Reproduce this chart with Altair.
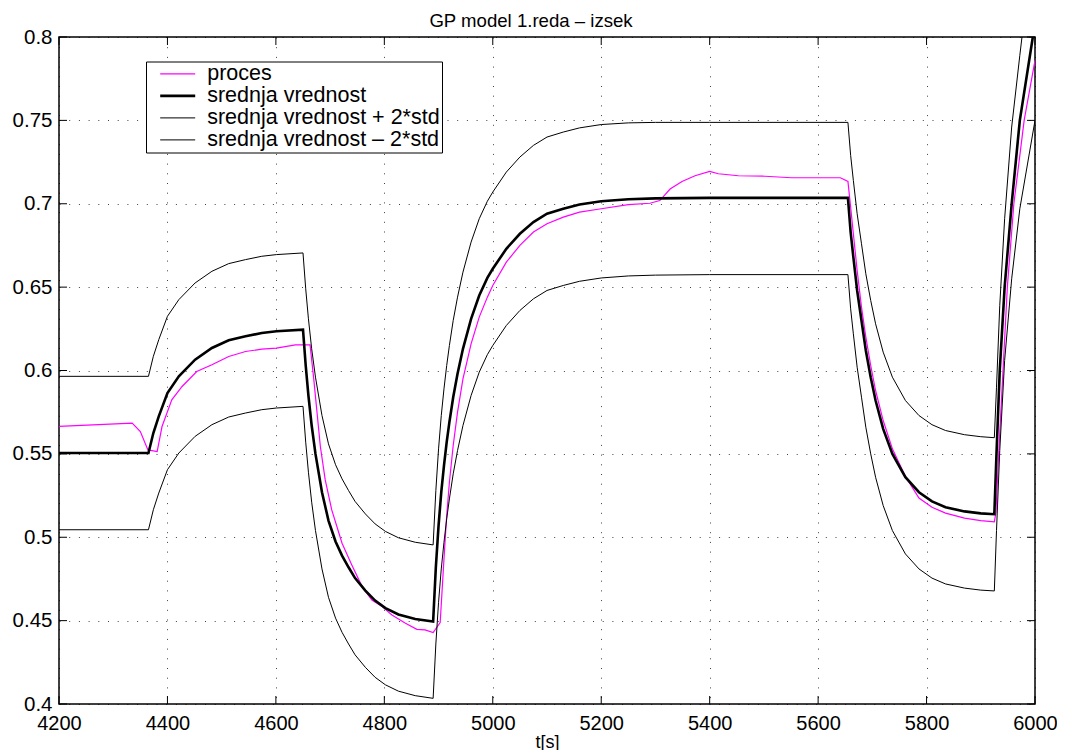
import altair as alt
import pandas as pd

# ---------------- data ----------------
x_ticks = [4200, 4400, 4600, 4800, 5000, 5200, 5400, 5600, 5800, 6000]
y_ticks = [0.4, 0.45, 0.5, 0.55, 0.6, 0.65, 0.7, 0.75, 0.8]

series_names = ["proces", "srednja vrednost", "srednja vrednost + 2*std", "srednja vrednost – 2*std"]

# common time grid of the model curves (up to the last step at 5925 s)
t_model = [4200, 4365, 4374, 4384, 4400, 4421, 4451, 4482, 4513, 4544, 4574, 4601, 4650,
           4655, 4660, 4666, 4673, 4685, 4697, 4710, 4722, 4734, 4746, 4765, 4783, 4802, 4826, 4857, 4890,
           4895, 4900, 4905, 4910, 4915, 4920, 4927, 4935, 4945, 4960, 4975, 4990, 5000, 5025, 5050, 5075,
           5100, 5130, 5160, 5200, 5250, 5300, 5400, 5655,
           5660, 5665, 5672, 5680, 5688, 5697, 5706, 5720, 5737, 5761, 5786, 5810, 5835, 5870, 5900, 5925]

mean_v = [0.5505, 0.5505, 0.5625, 0.5725, 0.5865, 0.5965, 0.6065, 0.6135, 0.6181, 0.6205, 0.6225, 0.6235, 0.6245,
          0.603, 0.585, 0.567, 0.550, 0.527, 0.510, 0.4975, 0.489, 0.482, 0.4755, 0.468, 0.462, 0.4575, 0.4537, 0.4510, 0.4494,
          0.482, 0.507, 0.527, 0.543, 0.557, 0.569, 0.584, 0.598, 0.613, 0.631, 0.645, 0.6555, 0.661, 0.673, 0.682, 0.689,
          0.694, 0.697, 0.6995, 0.7015, 0.7027, 0.7032, 0.7035, 0.7035,
          0.683, 0.668, 0.648, 0.630, 0.612, 0.596, 0.582, 0.565, 0.550, 0.536, 0.527, 0.5215, 0.518, 0.5155, 0.5143, 0.5138]

upper_v = [0.5965, 0.5965, 0.6085, 0.6185, 0.6325, 0.6425, 0.6525, 0.6595, 0.6641, 0.6665, 0.6685, 0.6695, 0.6705,
           0.649, 0.631, 0.613, 0.596, 0.573, 0.556, 0.5435, 0.535, 0.528, 0.5215, 0.514, 0.508, 0.5035, 0.4997, 0.497, 0.4954,
           0.528, 0.553, 0.573, 0.589, 0.603, 0.615, 0.630, 0.644, 0.659, 0.677, 0.691, 0.7015, 0.707, 0.719, 0.728, 0.735,
           0.740, 0.743, 0.7455, 0.7475, 0.7485, 0.7488, 0.7488, 0.7488,
           0.729, 0.714, 0.694, 0.676, 0.658, 0.642, 0.628, 0.611, 0.596, 0.582, 0.573, 0.5675, 0.564, 0.5615, 0.5603, 0.5597]

lower_v = [0.5045, 0.5045, 0.5165, 0.5265, 0.5405, 0.5505, 0.5605, 0.5675, 0.5721, 0.5745, 0.5765, 0.5775, 0.5785,
           0.557, 0.539, 0.521, 0.504, 0.481, 0.464, 0.4515, 0.443, 0.436, 0.4295, 0.422, 0.416, 0.4115, 0.4077, 0.405, 0.4034,
           0.436, 0.461, 0.481, 0.497, 0.511, 0.523, 0.538, 0.552, 0.567, 0.585, 0.599, 0.6095, 0.615, 0.627, 0.636, 0.643,
           0.648, 0.651, 0.6535, 0.6555, 0.6567, 0.6572, 0.6575, 0.6575,
           0.637, 0.622, 0.602, 0.584, 0.566, 0.550, 0.536, 0.519, 0.504, 0.490, 0.481, 0.4755, 0.472, 0.4695, 0.4683, 0.4678]

# last rise (after 5925 s) until each curve leaves the frame
t_mean_tail = [5929, 5935, 5944, 5957, 5972, 5996]
mean_tail = [0.55, 0.60, 0.65, 0.70, 0.75, 0.80]
t_upper_tail = [5929, 5935, 5944, 5957, 5972, 5976]
upper_tail = [0.59, 0.639, 0.691, 0.746, 0.789, 0.80]
t_lower_tail = [5929, 5935, 5944, 5957, 5972, 6000]
lower_tail = [0.504, 0.552, 0.606, 0.655, 0.697, 0.75]

t_proc = [4200, 4335, 4350, 4364, 4381, 4390, 4408, 4427, 4454, 4482, 4513, 4544, 4574, 4601, 4636, 4663,
          4670, 4676, 4682, 4691, 4703, 4722, 4740, 4759, 4777, 4796, 4814, 4839, 4860, 4875, 4890,
          4903, 4910, 4915, 4920, 4927, 4935, 4945, 4960, 4975, 4990, 5000, 5025, 5050, 5075, 5100, 5130,
          5160, 5200, 5250, 5290, 5308, 5327, 5349, 5373, 5400, 5416, 5453, 5502, 5551, 5641, 5655,
          5660, 5665, 5672, 5680, 5688, 5697, 5706, 5720, 5737, 5761, 5786, 5810, 5835, 5870, 5900, 5925,
          5928, 5933, 5941, 5949, 5961, 5980, 6000]

proc_v = [0.5665, 0.5685, 0.5634, 0.5524, 0.5514, 0.5664, 0.5824, 0.5904, 0.5994, 0.6034, 0.6084, 0.6114, 0.6128, 0.6134, 0.6154, 0.6154,
          0.5944, 0.5744, 0.5544, 0.5344, 0.5164, 0.4964, 0.4834, 0.4704, 0.4624, 0.4584, 0.4534, 0.4484, 0.4448, 0.4444, 0.4428,
          0.4488, 0.487, 0.513, 0.533, 0.555, 0.575, 0.595, 0.616, 0.632, 0.644, 0.651, 0.665, 0.675, 0.683, 0.688, 0.692,
          0.695, 0.697, 0.6995, 0.7003, 0.7019, 0.7088, 0.7134, 0.7168, 0.7194, 0.718, 0.7168, 0.7165, 0.7156, 0.7156, 0.7134,
          0.698, 0.682, 0.660, 0.638, 0.620, 0.603, 0.588, 0.570, 0.553, 0.5365, 0.5235, 0.518, 0.5145, 0.5115, 0.510, 0.5093,
          0.515, 0.550, 0.600, 0.650, 0.700, 0.750, 0.786]

# ---------------- build long table ----------------
rows = []


def add(ts, vs, name):
    for t, v in zip(ts, vs):
        rows.append({"t": t, "v": v, "series": name})


add(t_proc, proc_v, series_names[0])
add(t_model + t_mean_tail, mean_v + mean_tail, series_names[1])
add(t_model + t_upper_tail, upper_v + upper_tail, series_names[2])
add(t_model + t_lower_tail, lower_v + lower_tail, series_names[3])
df = pd.DataFrame(rows)
df["idx"] = range(len(df))

W, H = 976, 667
FONT = "Liberation Sans"

xscale = alt.Scale(domain=[4200, 6000], nice=False, zero=False)
yscale = alt.Scale(domain=[0.4, 0.8], nice=False, zero=False)

x_axis = alt.Axis(values=x_ticks, title="t[s]", grid=True, ticks=False, tickSize=0,
                  domain=False, labelPadding=9, labelFlush=False, format="d",
                  labelFontSize=20, titlePadding=0)
y_axis = alt.Axis(values=y_ticks, title=None, grid=True, ticks=False, tickSize=0,
                  domain=False, labelPadding=7, labelFlush=False, format=".2~f",
                  labelFontSize=20.5)

leg = alt.Legend(
    orient="none", legendX=87, legendY=24.5, title=None,
    symbolType="stroke", symbolSize=1225, clipHeight=20.8,
    padding=2, rowPadding=0, symbolOffset=10.7, labelOffset=10.5,
    labelFont=FONT, labelFontSize=21.5, labelColor="black", labelLimit=500,
    labelExpr="datum.label + '\u00a0\u00a0\u2009'",
    strokeColor="black", fillColor="white",
)

lines = alt.Chart(df).mark_line(clip=True, strokeJoin="miter").encode(
    x=alt.X("t:Q", scale=xscale, axis=x_axis),
    y=alt.Y("v:Q", scale=yscale, axis=y_axis),
    color=alt.Color("series:N", scale=alt.Scale(domain=series_names,
                                                range=["#ff00ff", "#000000", "#000000", "#000000"]),
                    legend=leg),
    strokeWidth=alt.StrokeWidth("series:N", scale=alt.Scale(type="ordinal", domain=series_names,
                                                            range=[1.2, 2.6, 1.0, 1.0]),
                                legend=leg),
    order=alt.Order("idx:Q"),
)

xt = pd.DataFrame({"t": x_ticks})
yt = pd.DataFrame({"v": y_ticks})
tick_len = 8
tb = alt.Chart(xt).mark_rule(color="black", strokeWidth=1).encode(
    x=alt.X("t:Q", scale=xscale, axis=x_axis), y=alt.value(H), y2=alt.value(H - tick_len))
tt = alt.Chart(xt).mark_rule(color="black", strokeWidth=1).encode(
    x=alt.X("t:Q", scale=xscale, axis=x_axis), y=alt.value(0), y2=alt.value(tick_len))
tl = alt.Chart(yt).mark_rule(color="black", strokeWidth=1).encode(
    y=alt.Y("v:Q", scale=yscale, axis=y_axis), x=alt.value(0), x2=alt.value(tick_len))
tr = alt.Chart(yt).mark_rule(color="black", strokeWidth=1).encode(
    y=alt.Y("v:Q", scale=yscale, axis=y_axis), x=alt.value(W), x2=alt.value(W - tick_len))

chart = alt.layer(lines, tb, tt, tl, tr).properties(
    width=W, height=H,
    autosize=alt.AutoSizeParams(type="none"),
    padding={"left": 51, "top": 29, "right": 22, "bottom": 46},
    title=alt.TitleParams(text="GP model 1.reda – izsek", font=FONT, fontSize=18.6,
                          fontWeight="normal", color="black", anchor="middle",
                          dx=-16, dy=19, offset=0, baseline="alphabetic", frame="group"),
).configure_view(
    stroke="black", strokeWidth=1.5
).configure_axis(
    gridColor="black", gridDash=[1, 8.7], gridOpacity=0.75, gridWidth=1,
    labelFont=FONT, labelFontSize=21, labelColor="black",
    titleFont=FONT, titleFontSize=18, titleFontWeight="normal", titleColor="black",
)

chart.save("out.html", embed_options={"renderer": "svg", "actions": False})
